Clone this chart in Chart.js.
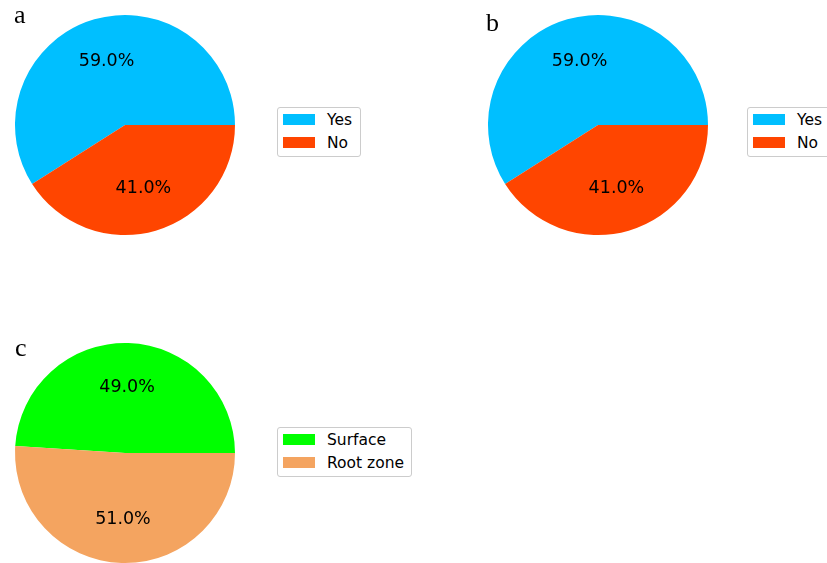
<!DOCTYPE html>
<html>
<head>
<meta charset="utf-8">
<script src="https://cdn.jsdelivr.net/npm/chart.js@4/dist/chart.umd.min.js"></script>
<style>
  html, body { margin: 0; padding: 0; background: #fff; }
  #page { position: relative; width: 827px; height: 563px; overflow: hidden; background: #fff; }
  canvas { position: absolute; }
  .panel { position: absolute; font-family: "Liberation Serif", "DejaVu Serif", serif; font-size: 26px; line-height: 26px; color: #000; }
  .legend { position: absolute; height: 48px; border: 1px solid #cccccc; border-radius: 3px; background: #fff; box-sizing: content-box; }
  .legend .patch { position: absolute; left: 5px; width: 32px; height: 11px; }
  .legend .txt { position: absolute; left: 49px; font-family: "DejaVu Sans", sans-serif; font-size: 15.5px; line-height: 20px; color: #000; white-space: nowrap; }
</style>
</head>
<body>
<div id="page"></div>
<script>
// Survey answers (panels a and b) and sampling zone split (panel c)
const panelLetters = ['a', 'b', 'c'];
const answerLabels = ['Yes', 'No'];
const answerValuesA = [59.0, 41.0];
const answerValuesB = [59.0, 41.0];
const zoneLabels = ['Surface', 'Root zone'];
const zoneValues = [49.0, 51.0];
const answerColors = ['#00BFFF', '#FF4500'];
const zoneColors = ['#00FF00', '#F4A460'];

const page = document.getElementById('page');

// Percentage labels placed at 60% of the radius along each wedge's middle angle
const pctLabels = {
  id: 'pctLabels',
  afterDatasetsDraw(chart) {
    const ctx = chart.ctx;
    const ds = chart.data.datasets[0];
    const total = ds.data.reduce((a, b) => a + b, 0);
    chart.getDatasetMeta(0).data.forEach((arc, i) => {
      const mid = (arc.startAngle + arc.endAngle) / 2;
      const r = arc.outerRadius * 0.6;
      const x = arc.x + r * Math.cos(mid);
      const y = arc.y + r * Math.sin(mid);
      ctx.save();
      ctx.font = '17.5px "DejaVu Sans", sans-serif';
      ctx.fillStyle = '#000';
      ctx.textAlign = 'center';
      ctx.textBaseline = 'middle';
      ctx.fillText((ds.data[i] / total * 100).toFixed(1) + '%', x, y);
      ctx.restore();
    });
  }
};

function makePie(left, top, labels, values, colors) {
  const cv = document.createElement('canvas');
  cv.width = 250; cv.height = 250;
  cv.style.left = left + 'px';
  cv.style.top = top + 'px';
  cv.style.width = '250px';
  cv.style.height = '250px';
  page.appendChild(cv);
  const total = values.reduce((a, b) => a + b, 0);
  // first wedge ends at 3 o'clock, wedges laid out anticlockwise from there
  const rotation = 90 - 360 * values[0] / total;
  new Chart(cv, {
    type: 'pie',
    data: {
      labels: labels,
      datasets: [{ data: values, backgroundColor: colors, borderWidth: 0, hoverOffset: 0 }]
    },
    options: {
      responsive: false,
      animation: false,
      devicePixelRatio: 1,
      rotation: rotation,
      layout: { padding: 15 },
      events: [],
      plugins: { legend: { display: false }, tooltip: { enabled: false } }
    },
    plugins: [pctLabels]
  });
}

function makeLegend(left, top, width, labels, colors) {
  const box = document.createElement('div');
  box.className = 'legend';
  box.style.left = left + 'px';
  box.style.top = top + 'px';
  box.style.width = width + 'px';
  labels.forEach((lab, i) => {
    const p = document.createElement('div');
    p.className = 'patch';
    p.style.top = (6 + 23 * i) + 'px';
    p.style.background = colors[i];
    box.appendChild(p);
    const t = document.createElement('div');
    t.className = 'txt';
    t.style.top = (1.5 + 23 * i) + 'px';
    t.textContent = lab;
    box.appendChild(t);
  });
  page.appendChild(box);
}

function makePanelLetter(left, top, letter) {
  const d = document.createElement('div');
  d.className = 'panel';
  d.style.left = left + 'px';
  d.style.top = top + 'px';
  d.textContent = letter;
  page.appendChild(d);
}

makePie(0, 0, answerLabels, answerValuesA, answerColors);
makePie(473, 0, answerLabels, answerValuesB, answerColors);
makePie(0, 328, zoneLabels, zoneValues, zoneColors);

makeLegend(277, 107, 82, answerLabels, answerColors);
makeLegend(747, 107, 82, answerLabels, answerColors);
makeLegend(277, 427, 133, zoneLabels, zoneColors);

makePanelLetter(14, 2, panelLetters[0]);
makePanelLetter(486, 10, panelLetters[1]);
makePanelLetter(15, 335, panelLetters[2]);
</script>
</body>
</html>
